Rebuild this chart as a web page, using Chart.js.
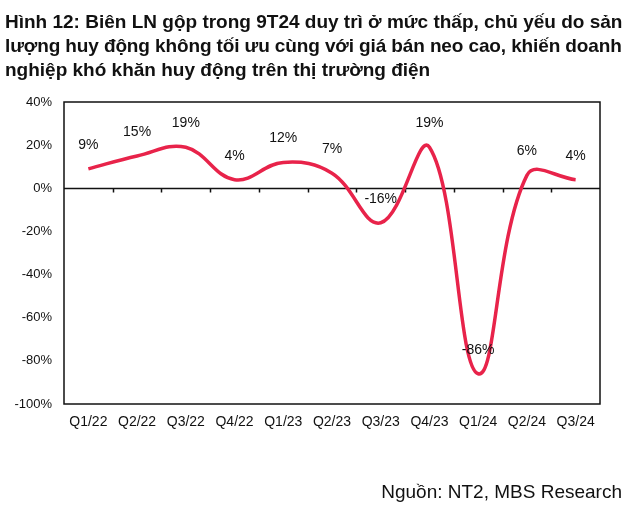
<!DOCTYPE html>
<html lang="vi">
<head>
<meta charset="UTF-8">
<title>Biên LN gộp NT2</title>
<script src="https://cdn.jsdelivr.net/npm/chart.js"></script>
<style>
    body {
        margin: 0;
        background: #fff;
        font-family: "Liberation Sans", Arial, sans-serif;
        color: #111;
    }
    #wrap {
        position: relative;
        width: 640px;
        height: 515px;
    }
    #title {
        position: absolute;
        left: 5px;
        top: 10px;
        width: 635px;
        font-weight: bold;
        font-size: 19px;
        line-height: 24px;
        white-space: nowrap;
    }
    #title .tight { letter-spacing: -0.12px; }
    #source {
        position: absolute;
        right: 18px;
        top: 481px;
        font-size: 19px;
    }
    canvas {
        position: absolute;
        left: 0;
        top: 0;
    }
</style>
</head>
<body>
<div id="wrap">
    <canvas id="chart" width="640" height="515"></canvas>
    <div id="title">Hình 12: Biên LN gộp trong 9T24 duy trì ở mức thấp, chủ yếu do sản<br><span class="tight">lượng huy động không tối ưu cùng với giá bán neo cao, khiến doanh</span><br>nghiệp khó khăn huy động trên thị trường điện</div>
    <div id="source">Nguồn: NT2, MBS Research</div>
</div>
<script>
const quarters = ['Q1/22', 'Q2/22', 'Q3/22', 'Q4/22', 'Q1/23', 'Q2/23', 'Q3/23', 'Q4/23', 'Q1/24', 'Q2/24', 'Q3/24'];
const grossMargin = [9, 15, 19, 4, 12, 7, -16, 19, -86, 6, 4];
const yMin = -100, yMax = 40, yStep = 20;

const lineColor = '#E8234A';

// box around the plot, zero line with little ticks, and value labels
const decorations = {
    id: 'decorations',
    beforeDatasetsDraw(chart) {
        const { ctx, chartArea: a, scales } = chart;
        ctx.save();
        ctx.strokeStyle = '#111';
        ctx.lineWidth = 1.5;
        ctx.strokeRect(a.left, a.top, a.right - a.left, a.bottom - a.top);
        const y0 = Math.round(scales.y.getPixelForValue(0)) + 0.5;
        ctx.beginPath();
        ctx.moveTo(a.left, y0);
        ctx.lineTo(a.right, y0);
        const step = (a.right - a.left) / quarters.length;
        for (let i = 1; i < quarters.length; i++) {
            const x = Math.round(a.left + step * i) + 0.5;
            ctx.moveTo(x, y0);
            ctx.lineTo(x, y0 + 4);
        }
        ctx.stroke();
        ctx.restore();
    },
    afterDatasetsDraw(chart) {
        const { ctx } = chart;
        const meta = chart.getDatasetMeta(0);
        ctx.save();
        ctx.fillStyle = '#111';
        ctx.font = '14px "Liberation Sans", Arial, sans-serif';
        ctx.textAlign = 'center';
        ctx.textBaseline = 'middle';
        meta.data.forEach((pt, i) => {
            ctx.fillText(grossMargin[i] + '%', pt.x, pt.y - 24);
        });
        ctx.restore();
    }
};

new Chart(document.getElementById('chart'), {
    type: 'line',
    data: {
        labels: quarters,
        datasets: [{
            data: grossMargin,
            borderColor: lineColor,
            borderWidth: 3.5,
            tension: 0.4,
            pointRadius: 0,
            fill: false
        }]
    },
    options: {
        responsive: false,
        animation: false,
        layout: { padding: { top: 102, right: 40, bottom: 81, left: 0 } },
        plugins: {
            legend: { display: false },
            tooltip: { enabled: false }
        },
        scales: {
            x: {
                offset: true,
                grid: { display: false, drawTicks: false },
                border: { display: false },
                ticks: {
                    padding: 10,
                    color: '#111',
                    maxRotation: 0,
                    font: { family: '"Liberation Sans", Arial, sans-serif', size: 14 }
                },
                afterFit(s) { s.height = 30; }
            },
            y: {
                min: yMin,
                max: yMax,
                grid: { display: false, drawTicks: false },
                border: { display: false },
                ticks: {
                    stepSize: yStep,
                    padding: 12,
                    color: '#111',
                    font: { family: '"Liberation Sans", Arial, sans-serif', size: 13 },
                    callback: v => v + '%'
                },
                afterFit(s) { s.width = 64; }
            }
        }
    },
    plugins: [decorations]
});
</script>
</body>
</html>
